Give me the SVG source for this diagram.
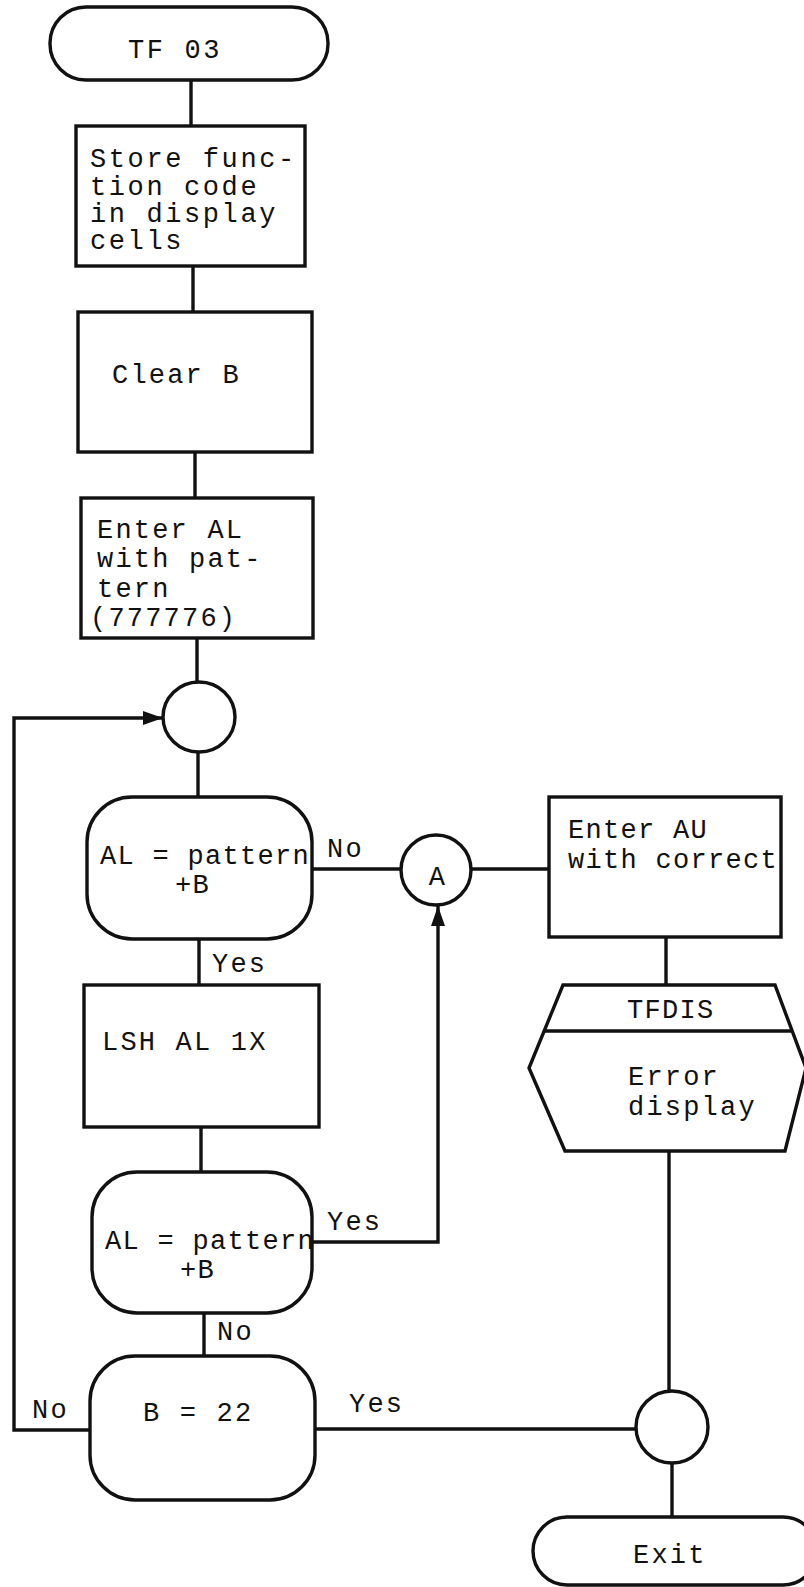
<svg xmlns="http://www.w3.org/2000/svg" width="804" height="1587" viewBox="0 0 804 1587">
<defs>
<style>
.shape{fill:#fff;stroke:#111;stroke-width:3.4}
.conn{fill:none;stroke:#111;stroke-width:3.4}
text{font-family:"Liberation Mono","Courier New",monospace;font-size:27px;letter-spacing:2.2px;fill:#111}
.wide{letter-spacing:2.6px}
.tight{letter-spacing:1.3px}
.mid{text-anchor:middle}
</style>
<marker id="arr" markerUnits="userSpaceOnUse" markerWidth="22" markerHeight="16" refX="20" refY="8" orient="auto">
<path d="M0,1 L20,8 L0,15 Z" fill="#111"/>
</marker>
</defs>
<rect width="804" height="1587" fill="#fff"/>
<g id="connectors">
<line class="conn" x1="191" y1="80" x2="191" y2="126"/>
<line class="conn" x1="193" y1="266" x2="193" y2="312"/>
<line class="conn" x1="195" y1="452" x2="195" y2="498"/>
<line class="conn" x1="197" y1="638" x2="197" y2="682"/>
<line class="conn" x1="198" y1="752" x2="198" y2="797"/>
<line class="conn" x1="199" y1="939" x2="199" y2="985"/>
<text x="212" y="972">Yes</text>
<line class="conn" x1="312" y1="869" x2="401" y2="869"/>
<text x="327" y="857">No</text>
<line class="conn" x1="471" y1="869" x2="549" y2="869"/>
<line class="conn" x1="666" y1="937" x2="666" y2="985"/>
<line class="conn" x1="201" y1="1127" x2="201" y2="1172"/>
<path class="conn" d="M312,1242 H438 V906" marker-end="url(#arr)"/>
<text x="327" y="1230">Yes</text>
<line class="conn" x1="204" y1="1313" x2="204" y2="1356"/>
<text x="217" y="1340">No</text>
<path class="conn" d="M90,1430 H14 V718 H163" marker-end="url(#arr)"/>
<text x="32" y="1418">No</text>
<line class="conn" x1="315" y1="1429" x2="636" y2="1429"/>
<text x="349" y="1412">Yes</text>
<line class="conn" x1="669" y1="1151" x2="669" y2="1391"/>
<line class="conn" x1="672" y1="1463" x2="672" y2="1517"/>
</g>
<g id="tf03">
<rect class="shape" x="50" y="7" width="278" height="73" rx="36"/>
<text class="wide" x="128" y="58">TF 03</text>
</g>
<g id="store">
<rect class="shape" x="76" y="126" width="229" height="140"/>
<text class="wide" x="90" y="167">Store func-</text>
<text class="wide" x="90" y="195">tion code</text>
<text class="wide" x="90" y="222">in display</text>
<text class="wide" x="90" y="249">cells</text>
</g>
<g id="clearb">
<rect class="shape" x="78" y="312" width="234" height="140"/>
<text x="112" y="383">Clear B</text>
</g>
<g id="enteral">
<rect class="shape" x="81" y="498" width="232" height="140"/>
<text x="97" y="538">Enter AL</text>
<text x="97" y="567">with pat-</text>
<text x="97" y="597">tern</text>
<text x="90" y="626">(777776)</text>
</g>
<g id="loopjoin">
<ellipse class="shape" cx="199" cy="717" rx="36" ry="35"/>
</g>
<g id="dec1">
<rect class="shape" x="87" y="797" width="225" height="142" rx="45"/>
<text class="tight" x="100" y="864">AL = pattern</text>
<text class="tight" x="175" y="893">+B</text>
</g>
<g id="connA">
<circle class="shape" cx="436" cy="870" r="35"/>
<text class="mid" x="438" y="885">A</text>
</g>
<g id="enterau">
<rect class="shape" x="549" y="797" width="232" height="140"/>
<text class="tight" x="568" y="838">Enter AU</text>
<text class="tight" x="568" y="868">with correct</text>
</g>
<g id="tfdis">
<polygon class="shape" points="563,985 775,985 806,1068 785,1151 565,1151 529,1068"/>
<line class="conn" x1="545" y1="1031" x2="793" y2="1031"/>
<text class="tight" x="627" y="1018">TFDIS</text>
<text x="628" y="1085">Error</text>
<text x="628" y="1115">display</text>
</g>
<g id="lsh">
<rect class="shape" x="84" y="985" width="235" height="142"/>
<text x="102" y="1050">LSH AL 1X</text>
</g>
<g id="dec2">
<rect class="shape" x="92" y="1172" width="220" height="141" rx="45"/>
<text class="tight" x="105" y="1249">AL = pattern</text>
<text class="tight" x="180" y="1278">+B</text>
</g>
<g id="dec3">
<rect class="shape" x="90" y="1356" width="225" height="144" rx="45"/>
<text x="143" y="1421">B = 22</text>
</g>
<g id="exitjoin">
<circle class="shape" cx="672" cy="1427" r="36"/>
</g>
<g id="exit">
<rect class="shape" x="533" y="1517" width="284" height="68" rx="34"/>
<text x="633" y="1563">Exit</text>
</g>
</svg>
